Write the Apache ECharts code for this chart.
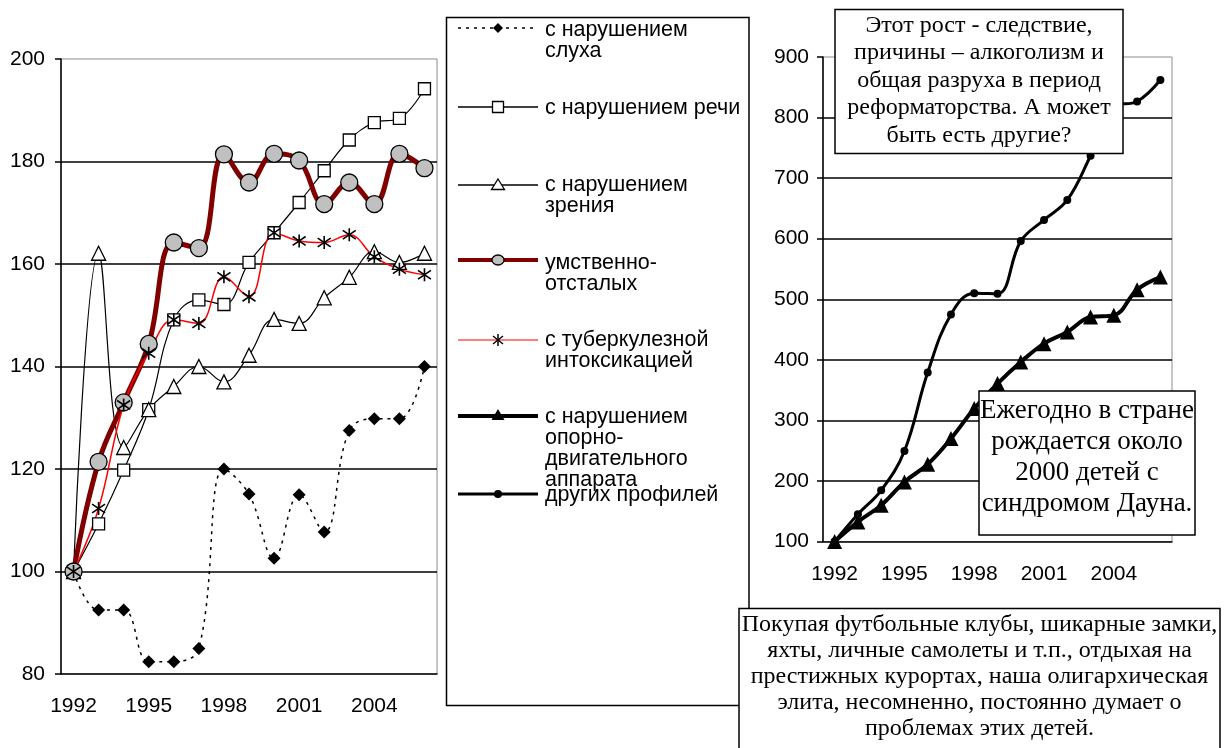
<!DOCTYPE html>
<html><head><meta charset="utf-8">
<script src="https://cdn.jsdelivr.net/npm/echarts@6/dist/echarts.min.js"></script>
<style>html,body{margin:0;padding:0;background:#fff}#c{width:1229px;height:748px}</style>
</head><body><div id="c"></div>
<script>
// ---------- data ----------
const years = ['1992','1993','1994','1995','1996','1997','1998','1999','2000','2001','2002','2003','2004','2005','2006'];
const hearing = [100, 92.5, 92.5, 82.4, 82.4, 85, 120, 115.1, 102.6, 115, 107.7, 127.5, 129.8, 129.8, 140];
const speech  = [100, 109.3, 119.8, 131.6, 149.1, 153, 152.1, 160.3, 166.1, 172, 178.2, 184.2, 187.6, 188.4, 194.2];
const vision  = [100, 162.1, 124.2, 131.6, 136.1, 140, 137, 142.2, 149.2, 148.4, 153.4, 157.4, 162.4, 160.3, 162.1];
const mental  = [100, 121.4, 133, 144.4, 164.2, 163.1, 181.4, 175.9, 181.5, 180.2, 171.7, 175.9, 171.7, 181.5, 178.7];
const tuberc  = [100, 112.3, 132.5, 142.6, 149.1, 148.4, 157.5, 153.6, 166.1, 164.5, 164.2, 165.7, 161.4, 159, 157.9];
const musculo = [100, 132.4, 160, 198.4, 227.6, 270, 319.5, 360.7, 396.4, 426.7, 445.9, 470.6, 473.4, 515.8, 536.6];
const others  = [100, 145, 184.6, 249.5, 378.9, 475, 510, 509, 596, 631, 664, 737, 818, 826.6, 862];

const seriesNames = ['с нарушением слуха','с нарушением речи','с нарушением зрения','умственно-отсталых','с туберкулезной интоксикацией','с нарушением опорно-двигательного аппарата','других профилей'];
const legendLabels = ['с нарушением\nслуха','с нарушением речи','с нарушением\nзрения','умственно-\nотсталых','с туберкулезной\nинтоксикацией','с нарушением\nопорно-\nдвигательного\nаппарата','других профилей'];

const note1 = 'Этот рост - следствие,\nпричины – алкоголизм и\nобщая разруха в период\nреформаторства. А может\nбыть есть другие?';
const note2 = 'Ежегодно в стране\nрождается около\n2000 детей с\nсиндромом Дауна.';
const note3 = 'Покупая футбольные клубы, шикарные замки,\nяхты, личные самолеты и т.п., отдыхая на\nпрестижных курортах, наша олигархическая\nэлита, несомненно, постоянно думает о\nпроблемах этих детей.';

// ---------- chart ----------
const SANS = '"Liberation Sans", Arial, sans-serif';
const SERIF = '"Liberation Serif", "Times New Roman", serif';
const ASTER = 'path://M5,0L5,10M0.6,1.6L9.4,8.4M9.4,1.6L0.6,8.4';

const chart = echarts.init(document.getElementById('c'), null, {renderer: 'canvas'});

function xAxisCfg(grid) {
  return {
    type: 'category', gridIndex: grid, data: years, boundaryGap: true,
    axisLine: {lineStyle: {color: '#000', width: 1.5}},
    axisTick: {interval: 0, length: 7, lineStyle: {color: '#000', width: 1.5}},
    axisLabel: {interval: 2, color: '#000', fontFamily: SANS, fontSize: 21, margin: 22},
    splitLine: {show: false}
  };
}
function yAxisCfg(grid, min, max, step, margin) {
  return {
    type: 'value', gridIndex: grid, min: min, max: max, interval: step,
    axisLine: {show: true, lineStyle: {color: '#000', width: 1.5}},
    axisTick: {show: true, length: 6, lineStyle: {color: '#000', width: 1.5}},
    axisLabel: {color: '#000', fontFamily: SANS, fontSize: 21, margin: margin},
    splitLine: {show: true, showMinLine: false, showMaxLine: false, lineStyle: {color: '#000', width: 1.5}}
  };
}

const series = [
  {name: seriesNames[0], data: hearing, xAxisIndex: 0, yAxisIndex: 0, symbol: 'diamond', symbolSize: 13,
   lineStyle: {color: '#000', width: 1.5, type: [3, 5]}, itemStyle: {color: '#000', borderColor: '#000', borderWidth: 0}},
  {name: seriesNames[1], data: speech, xAxisIndex: 0, yAxisIndex: 0, symbol: 'rect', symbolSize: 12,
   lineStyle: {color: '#000', width: 1.2}, itemStyle: {color: '#fff', borderColor: '#000', borderWidth: 1.3}},
  {name: seriesNames[2], data: vision, xAxisIndex: 0, yAxisIndex: 0, symbol: 'triangle', symbolSize: 14,
   lineStyle: {color: '#000', width: 1.2}, itemStyle: {color: '#fff', borderColor: '#000', borderWidth: 1.3}},
  {name: seriesNames[3], data: mental, xAxisIndex: 0, yAxisIndex: 0, symbol: 'circle', symbolSize: 17,
   lineStyle: {color: '#800000', width: 5}, itemStyle: {color: '#c0c0c0', borderColor: '#000', borderWidth: 1.3}},
  {name: seriesNames[4], data: tuberc, xAxisIndex: 0, yAxisIndex: 0, symbol: ASTER, symbolSize: 13,
   lineStyle: {color: '#ff0000', width: 1.5}, itemStyle: {color: 'none', borderColor: '#000', borderWidth: 1.6}},
  {name: seriesNames[5], data: musculo, xAxisIndex: 1, yAxisIndex: 1, symbol: 'triangle', symbolSize: 15,
   lineStyle: {color: '#000', width: 4}, itemStyle: {color: '#000', borderColor: '#000', borderWidth: 0}},
  {name: seriesNames[6], data: others, xAxisIndex: 1, yAxisIndex: 1, symbol: 'circle', symbolSize: 8,
   lineStyle: {color: '#000', width: 3}, itemStyle: {color: '#000', borderColor: '#000', borderWidth: 0}}
].map(s => Object.assign({type: 'line', smooth: 0.4, showSymbol: true, showAllSymbol: true, animation: false}, s));

// ---------- legend & notes (graphic) ----------
const legStyles = [
  {stroke: '#000', lw: 1.5, dash: [3, 5], mk: 'diamond'},
  {stroke: '#000', lw: 1.5, dash: null, mk: 'rect'},
  {stroke: '#000', lw: 1.5, dash: null, mk: 'triangle'},
  {stroke: '#800000', lw: 4, dash: null, mk: 'circle'},
  {stroke: '#ff0000', lw: 1.2, dash: null, mk: 'aster'},
  {stroke: '#000', lw: 4, dash: null, mk: 'triFill'},
  {stroke: '#000', lw: 3, dash: null, mk: 'dot'}
];
const legLineY = [28, 107, 185, 260, 340, 416, 494];
const legTextY = [30, 108, 185, 263, 340, 417, 495];
const MX = 498;

function marker(kind, y) {
  switch (kind) {
    case 'diamond': return [{type: 'polygon', z: 101, shape: {points: [[MX, y - 5], [MX + 5, y], [MX, y + 5], [MX - 5, y]]}, style: {fill: '#000'}}];
    case 'rect': return [{type: 'rect', z: 101, shape: {x: MX - 5.5, y: y - 5.5, width: 11, height: 11}, style: {fill: '#fff', stroke: '#000', lineWidth: 1.3}}];
    case 'triangle': return [{type: 'polygon', z: 101, shape: {points: [[MX, y - 6], [MX + 6.5, y + 4.5], [MX - 6.5, y + 4.5]]}, style: {fill: '#fff', stroke: '#000', lineWidth: 1.3}}];
    case 'circle': return [{type: 'ellipse', z: 101, shape: {cx: MX, cy: y, rx: 6, ry: 5}, style: {fill: '#c0c0c0', stroke: '#000', lineWidth: 1.3}}];
    case 'aster': return [
      {type: 'line', z: 101, shape: {x1: MX, y1: y - 6, x2: MX, y2: y + 6}, style: {stroke: '#000', lineWidth: 1.5}},
      {type: 'line', z: 101, shape: {x1: MX - 5, y1: y - 4, x2: MX + 5, y2: y + 4}, style: {stroke: '#000', lineWidth: 1.5}},
      {type: 'line', z: 101, shape: {x1: MX + 5, y1: y - 4, x2: MX - 5, y2: y + 4}, style: {stroke: '#000', lineWidth: 1.5}}
    ];
    case 'triFill': return [{type: 'polygon', z: 101, shape: {points: [[MX, y - 7], [MX + 6.5, y + 4], [MX - 6.5, y + 4]]}, style: {fill: '#000'}}];
    default: return [{type: 'circle', z: 101, shape: {cx: MX, cy: y, r: 4}, style: {fill: '#000'}}];
  }
}

const graphics = [
  {type: 'rect', z: 99, shape: {x: 446.5, y: 17.5, width: 302.5, height: 688}, style: {fill: '#fff', stroke: '#000', lineWidth: 1.5}}
];
legendLabels.forEach((lab, i) => {
  const st = legStyles[i];
  graphics.push({type: 'line', z: 100, shape: {x1: 458, y1: legLineY[i], x2: 538, y2: legLineY[i]},
    style: {stroke: st.stroke, lineWidth: st.lw, lineDash: st.dash}});
  marker(st.mk, legLineY[i]).forEach(g => graphics.push(g));
  graphics.push({type: 'text', z: 101, x: 545, y: legTextY[i] - 10.5,
    style: {text: lab, fill: '#000', font: '21.5px ' + SANS, lineHeight: 21, textVerticalAlign: 'top', textAlign: 'left'}});
});

function note(x, y, w, h, txt, size, lh, cy, z) {
  graphics.push({type: 'rect', z: z, shape: {x: x, y: y, width: w, height: h}, style: {fill: '#fff', stroke: '#000', lineWidth: 1.5}});
  graphics.push({type: 'text', z: z + 1, x: x + w / 2, y: cy,
    style: {text: txt, fill: '#000', font: size + 'px ' + SERIF, lineHeight: lh, textAlign: 'center', textVerticalAlign: 'middle'}});
}
note(835, 9.5, 288, 144, note1, 24, 27.5, 80.5, 110);
note(979, 391, 216, 144, note2, 27, 31, 457, 110);
note(739, 608.5, 481, 145, note3, 24, 26, 677, 120);

chart.setOption({
  animation: false,
  backgroundColor: '#fff',
  grid: [
    {left: 61, top: 59, width: 376, height: 615, show: true, borderColor: '#8c8c8c', borderWidth: 1, backgroundColor: 'transparent'},
    {left: 823, top: 57, width: 349, height: 484.5, show: true, borderColor: '#8c8c8c', borderWidth: 1, backgroundColor: 'transparent'}
  ],
  xAxis: [xAxisCfg(0), xAxisCfg(1)],
  yAxis: [yAxisCfg(0, 80, 200, 20, 16), yAxisCfg(1, 100, 900, 100, 14)],
  series: series,
  graphic: graphics
});
</script>
</body></html>
